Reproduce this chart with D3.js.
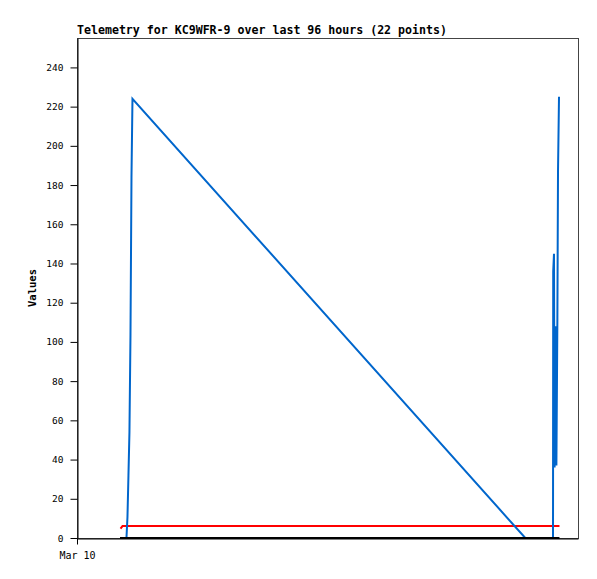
<!DOCTYPE html>
<html>
<head>
<meta charset="utf-8">
<script src="https://cdn.jsdelivr.net/npm/d3@7"></script>
<style>
  body { margin: 0; background: #fff; }
  text { font-family: "DejaVu Sans Mono", monospace; }
</style>
</head>
<body>
<div id="chart"></div>
<script>
// hours since Mar 10 00:00
const blueHours = [8.24, 9.48, 9.67, 9.86, 10.05, 10.25, 10.44, 10.63, 85.9, 91.21, 91.25, 91.4, 91.51, 91.74, 91.86, 92.05, 92.17, 92.36];
const blueValues = [0, 0, 10.7, 32, 54, 104, 184, 224, 0, 0, 136, 145, 36, 108, 37, 112, 187, 225];
const redHours = [8.34, 8.72, 92.45];
const redValues = [4.8, 6.1, 6.1];
const blackHours = [8.24, 92.45];
const blackValues = [0, 0];
const yTicks = [0, 20, 40, 60, 80, 100, 120, 140, 160, 180, 200, 220, 240];
const xTicks = [0];
const xTickLabels = ["Mar 10"];
const title = "Telemetry for KC9WFR-9 over last 96 hours (22 points)";

const W = 597, H = 579;
const margin = { top: 38, right: 19, bottom: 41, left: 77 };

const svg = d3.select("#chart").append("svg")
  .attr("width", W)
  .attr("height", H);

const x = d3.scaleLinear().domain([0, 96]).range([margin.left, W - margin.right]);
const y = d3.scaleLinear().domain([0, 255]).range([H - margin.bottom, margin.top]);

// frame
svg.append("rect")
  .attr("x", margin.left + 0.5)
  .attr("y", margin.top + 0.5)
  .attr("width", W - margin.right - margin.left)
  .attr("height", H - margin.bottom - margin.top)
  .attr("fill", "none")
  .attr("stroke", "#444");

svg.append("text")
  .attr("x", margin.left)
  .attr("y", 34)
  .style("font-size", "11.6px")
  .style("font-weight", "bold")
  .text(title);

const line = d3.line()
  .x((d) => x(d[0]))
  .y((d) => y(d[1]));

function series(hours, values, color) {
  svg.append("path")
    .datum(hours.map((h, i) => [h, values[i]]))
    .attr("d", line)
    .attr("fill", "none")
    .attr("stroke", color)
    .attr("stroke-width", 2);
}

// axes
const yAxis = svg.append("g")
  .attr("transform", `translate(${margin.left + 0.5},0)`)
  .call(d3.axisLeft(y).tickValues(yTicks).tickSize(7).tickPadding(7).tickSizeOuter(0));
yAxis.select(".domain").attr("stroke", "#000");
yAxis.selectAll("text").style("font-size", "9.5px").style("font-family", "'DejaVu Sans Mono', monospace");

const xAxis = svg.append("g")
  .attr("transform", `translate(0,${H - margin.bottom + 0.5})`)
  .call(d3.axisBottom(x).tickValues(xTicks).tickFormat((d, i) => xTickLabels[i]).tickSize(6).tickPadding(7).tickSizeOuter(0));
xAxis.selectAll("text").style("font-size", "10px").style("font-family", "'DejaVu Sans Mono', monospace");

series(redHours, redValues, "#ff0000");
series(blueHours, blueValues, "#0066cc");
series(blackHours, blackValues, "#000");

svg.append("text")
  .attr("transform", `translate(36,${(margin.top + H - margin.bottom) / 2}) rotate(-90)`)
  .attr("text-anchor", "middle")
  .style("font-size", "10.5px")
  .style("font-weight", "bold")
  .text("Values");
</script>
</body>
</html>
